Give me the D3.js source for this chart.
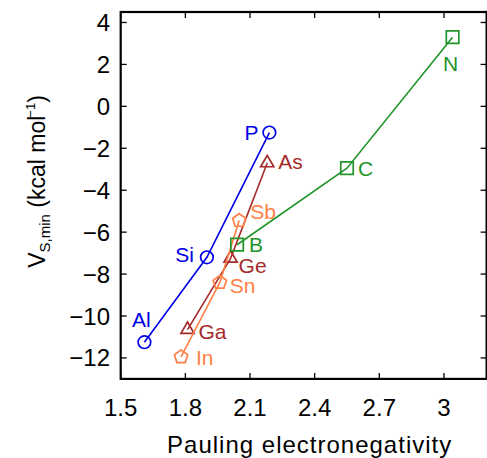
<!DOCTYPE html>
<html>
<head>
<meta charset="utf-8">
<script src="https://cdn.jsdelivr.net/npm/d3@7"></script>
<style>
  html, body { margin: 0; padding: 0; background: #fff; }
  svg { display: block; font-family: "Liberation Sans", Arial, Helvetica, sans-serif; }
</style>
</head>
<body>
<svg id="chart" width="487" height="458"></svg>
<script>
// Minimum surface electrostatic potential vs. Pauling electronegativity, by period row
const rowAlSiP = ["Al", "Si", "P"];
const rowGaGeAs = ["Ga", "Ge", "As"];
const rowInSnSb = ["In", "Sn", "Sb"];
const rowBCN = ["B", "C", "N"];

const enAlSiP = [1.61, 1.90, 2.19];
const vAlSiP = [-11.25, -7.2, -1.25];

const enGaGeAs = [1.81, 2.01, 2.18];
const vGaGeAs = [-10.65, -7.25, -2.7];

const enInSnSb = [1.78, 1.96, 2.05];
const vInSnSb = [-11.95, -8.4, -5.45];

const enBCN = [2.04, 2.55, 3.04];
const vBCN = [-6.6, -2.95, 3.3];

const xTicks = [1.5, 1.8, 2.1, 2.4, 2.7, 3];
const yTicks = [4, 2, 0, -2, -4, -6, -8, -10, -12];

const series = [
  { names: rowAlSiP, x: enAlSiP, y: vAlSiP, color: "#0000e6", shape: "circle" },
  { names: rowGaGeAs, x: enGaGeAs, y: vGaGeAs, color: "#a52a2a", shape: "triangle" },
  { names: rowInSnSb, x: enInSnSb, y: vInSnSb, color: "#ff7f45", shape: "pentagon" },
  { names: rowBCN, x: enBCN, y: vBCN, color: "#22952a", shape: "square" }
];

// label placement around each point: [dx, dy, anchor]
const labelPlace = {
  Al: [-3, -15, "middle"], Si: [-13, 5, "end"], P: [-11, 7, "end"],
  Ga: [11, 9, "start"], Ge: [8, 15, "start"], As: [11, 6, "start"],
  In: [15, 8, "start"], Sn: [10, 11, "start"], Sb: [11, -2, "start"],
  B: [12, 7, "start"], C: [11, 8, "start"], N: [-2, 34, "middle"]
};

const svg = d3.select("#chart");
const plotL = 120.7, plotR = 486.6, plotT = 12, plotB = 378.9;

const x = d3.scaleLinear().domain([1.5, 3.2]).range([plotL, plotL + 215.5 * 1.7]);
const y = d3.scaleLinear().domain([-13, 4.5]).range([plotB, plotT]);

const fmtY = d => (d < 0 ? "\u2212" + Math.abs(d) : String(d));

// inward ticks on all four sides
const tickLen = 6;
const ticks = svg.append("g").attr("stroke", "#000").attr("stroke-width", 1.3);
xTicks.forEach(t => {
  ticks.append("line").attr("x1", x(t)).attr("x2", x(t)).attr("y1", plotB).attr("y2", plotB - tickLen);
  ticks.append("line").attr("x1", x(t)).attr("x2", x(t)).attr("y1", plotT).attr("y2", plotT + tickLen);
});
yTicks.forEach(t => {
  ticks.append("line").attr("x1", plotL).attr("x2", plotL + tickLen).attr("y1", y(t)).attr("y2", y(t));
  ticks.append("line").attr("x1", plotR).attr("x2", plotR - tickLen).attr("y1", y(t)).attr("y2", y(t));
});

// tick labels
svg.append("g").selectAll("text").data(xTicks).join("text")
  .attr("x", d => x(d)).attr("y", 415.5)
  .attr("text-anchor", "middle").attr("font-size", 24).attr("fill", "#000")
  .text(d => String(d));

svg.append("g").selectAll("text").data(yTicks).join("text")
  .attr("x", 110).attr("y", d => y(d) + 8.5)
  .attr("text-anchor", "end").attr("font-size", 24).attr("fill", "#000")
  .text(fmtY);

// axis titles
svg.append("text")
  .attr("x", (plotL + plotR) / 2 + 6).attr("y", 453)
  .attr("text-anchor", "middle").attr("font-size", 24).attr("letter-spacing", 1)
  .attr("fill", "#000")
  .text("Pauling electronegativity");

const yTitle = svg.append("text")
  .attr("transform", `translate(45, ${(plotT + plotB) / 2 - 14}) rotate(-90)`)
  .attr("text-anchor", "middle").attr("font-size", 23).attr("fill", "#000");
yTitle.append("tspan").text("V");
yTitle.append("tspan").attr("font-size", 15).attr("dy", 5).text("S,min");
yTitle.append("tspan").attr("dy", -5).text(" (kcal mol");
yTitle.append("tspan").attr("font-size", 13).attr("dx", -2).attr("dy", -10).text("\u22121");
yTitle.append("tspan").attr("dy", 10).text(")");

// marker shapes
const symbolFor = {
  circle: d3.symbol().type(d3.symbolCircle).size(Math.PI * 6.3 * 6.3),
  square: d3.symbol().type(d3.symbolSquare).size(12.5 * 12.5),
  triangle: d3.symbol().type(d3.symbolTriangle).size(75)
};
function pentagonPath(r) {
  const pts = d3.range(5).map(i => {
    const a = -Math.PI / 2 + i * 2 * Math.PI / 5;
    return [r * Math.cos(a), r * Math.sin(a)];
  });
  return "M" + pts.map(p => p.join(",")).join("L") + "Z";
}

const plot = svg.append("g");
series.forEach(s => {
  const pts = s.names.map((n, i) => ({ name: n, x: s.x[i], y: s.y[i] }));
  const g = plot.append("g");
  g.selectAll("path.mk").data(pts).join("path")
    .attr("class", "mk")
    .attr("transform", d => `translate(${x(d.x)},${y(d.y)})`)
    .attr("d", s.shape === "pentagon" ? pentagonPath(7) : symbolFor[s.shape]())
    .attr("fill", "none").attr("stroke", s.color).attr("stroke-width", 1.7);
  g.append("path").datum(pts)
    .attr("d", d3.line().x(d => x(d.x)).y(d => y(d.y)))
    .attr("fill", "none").attr("stroke", s.color).attr("stroke-width", 1.6);
  g.selectAll("text").data(pts).join("text")
    .attr("x", d => x(d.x) + labelPlace[d.name][0])
    .attr("y", d => y(d.y) + labelPlace[d.name][1])
    .attr("text-anchor", d => labelPlace[d.name][2])
    .attr("font-size", 21).attr("fill", s.color)
    .text(d => d.name);
});

// frame
svg.append("rect")
  .attr("x", plotL).attr("y", plotT).attr("width", plotR - plotL).attr("height", plotB - plotT)
  .attr("fill", "none").attr("stroke", "#000").attr("stroke-width", 2.2);
</script>
</body>
</html>
